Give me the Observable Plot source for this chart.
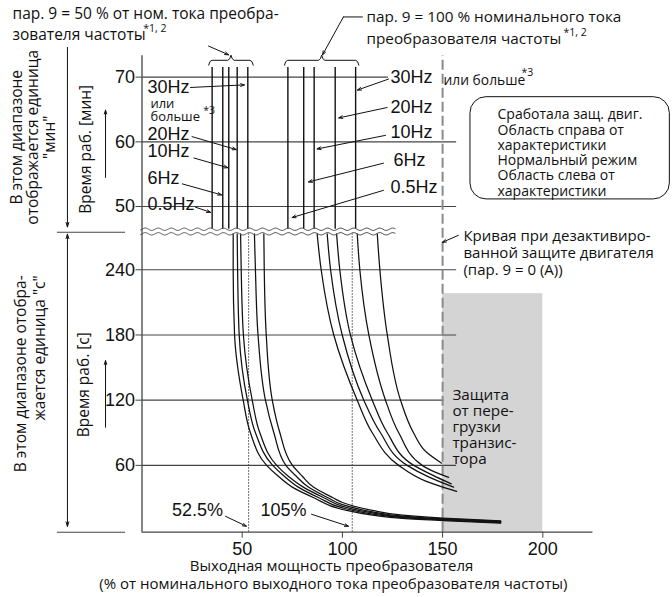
<!DOCTYPE html>
<html><head><meta charset="utf-8">
<script src="https://cdn.jsdelivr.net/npm/d3@7"></script>
<script src="https://cdn.jsdelivr.net/npm/@observablehq/plot@0.6"></script>
<style>body{margin:0;background:#fff}#chart svg{display:block}</style>
</head><body><div id="chart"></div>
<script>
// ---- data ----
const freqLabels = ["0.5Hz", "6Hz", "10Hz", "20Hz", "30Hz"];
const xTicks = [50, 100, 150, 200];
const secTicks = [60, 120, 180, 240];
const minTicks = [50, 60, 70];
// vertical characteristic lines in the "min" range (% of rated current)
const minLines50 = [35.0, 40.3, 43.3, 47.5, 52.8];
const minLines100 = [72.8, 80.7, 85.9, 96.4, 106.6];
const refLines = [53.2, 104.9]; // 52.5 % and 105 %
// curves in the "s" range: [% current, seconds]
const sec50_05 = [[45.5,273],[45.5,240],[46.2,180],[50.5,120],[54.1,90],[62.2,60],[68,50],[75,40],[86,30],[100,19.4],[115,14.2],[130,11.2],[150,9.2],[179,6.9]];
const sec50_6  = [[47.5,273],[47.7,240],[48.5,180],[52.6,120],[56.6,90],[65.2,60],[71,50],[78,40],[88.5,30],[100,20.8],[115,15.2],[130,11.9],[150,9.8],[179,7.4]];
const sec50_10 = [[49.2,273],[49.5,240],[50.6,180],[55,120],[58.8,90],[67.2,60],[73,50],[80.5,40],[91,30],[100,22.3],[115,16.2],[130,12.6],[150,10.3],[179,7.9]];
const sec50_20 = [[56.1,273],[56.6,240],[57.9,180],[61.6,120],[65.8,90],[71.8,60],[77,50],[83,40],[93,30],[100,23.8],[115,17.3],[130,13.4],[150,10.9],[179,8.4]];
const sec50_30 = [[60.8,273],[61,240],[62,180],[65,120],[68.8,90],[75.1,60],[80,50],[85.5,40],[95.5,30],[100,25.8],[115,18.6],[130,14.2],[150,11.5],[179,8.9]];
const sec100_05 = [[87.4,273],[89.4,240],[95.7,180],[107.4,120],[114.9,90],[128.1,60],[141,46],[157,36]];
const sec100_6  = [[92.4,273],[94.1,240],[99.9,180],[110.7,120],[119,90],[132.3,60],[143.5,49],[155.5,40]];
const sec100_10 = [[97.1,273],[98.7,240],[104,180],[114.9,120],[122.4,90],[135.6,60],[145,51],[154.3,43]];
const sec100_20 = [[107.4,273],[108.7,240],[113.2,180],[121.5,120],[128.1,90],[139.8,60],[146,54],[153,49]];
const sec100_30 = [[117.4,273],[118.7,240],[122.4,180],[129,120],[135.5,90],[142,72],[149.5,62]];
const transistorZone = [150, 200, 218]; // x from, x to, up to seconds

// ---- helpers ----
// the "min" range is drawn above the "s" range on one shared vertical axis
const up = m => 298.2 + (m - 50) * 5.954;
const curves = [sec50_05, sec50_6, sec50_10, sec50_20, sec50_30, sec100_05, sec100_6, sec100_10, sec100_20, sec100_30];
const curveRows = curves.flatMap((c, i) => c.map(([x, t]) => ({id: i, x, t})));
const yTickLabel = new Map([...secTicks.map(s => [s, String(s)]), ...minTicks.map(m => [up(m), String(m)])]);
const wave = base => d3.range(-0.7, 126.6, 0.5).map(x => ({x, y: base + 1.1 * Math.sin(2 * Math.PI * x / 6.5)}));
const brace = (x0, x1) => {
  const xm = (x0 + x1) / 2;
  return [[x0,71.85],[x0+0.6,72.4],[x0+1.6,72.6],[xm-1.6,72.6],[xm-0.6,72.85],[xm,73.4],[xm+0.6,72.85],[xm+1.6,72.6],[x1-1.6,72.6],[x1-0.6,72.4],[x1,71.85]].map(([x, m]) => ({x, y: up(m)}));
};
const RU = "'Open Sans', 'Noto Sans', sans-serif";
const NUM = "'Liberation Sans', Arial, sans-serif";
const ink = "#111";
const txt = (s, x, y, o = {}) => Plot.text([s], {x, y, text: d => d, fill: ink, fontFamily: RU, fontSize: 15, textAnchor: "start", ...o});
const arrows = (data, o = {}) => Plot.arrow(data, {x1: d => d[0], y1: d => d[1], x2: d => d[2], y2: d => d[3], stroke: ink, strokeWidth: 1, headLength: 6, headAngle: 40, ...o});

const leftHzY = [50.36, 54.45, 58.54, 61.17, 68.44];
const rightHzY = [52.98, 57.16, 61.5, 65.36, 70.0];
const leftArrowsMin = [[26.7,49.9,34.2,49.1],[20.1,53.5,39.7,51.8],[25.9,57.5,42.8,56.0],[25.0,60.8,47.0,58.8],[24.2,68.4,51.1,68.8]];
const rightArrowsMin = [[120.5,52.5,74.9,48.3],[120.5,56.7,83.1,53.8],[121.5,61.0,87.4,58.9],[122.3,65.3,98.2,63.7],[123.0,69.7,107.5,68.0]];
const toUp = a => [a[0], up(a[1]), a[2], up(a[3])];

const chart = Plot.plot({
  width: 672, height: 597,
  marginLeft: 141.5, marginRight: 79.6, marginTop: 55.2, marginBottom: 65.3,
  x: {domain: [0, 225]},
  y: {domain: [-1.5, 437]},
  style: {fontFamily: NUM, fontSize: "18px", background: "#fff", color: ink},
  marks: [
    Plot.rect([transistorZone], {x1: d => d[0], x2: d => d[1], y1: -1.5, y2: d => d[2], fill: "#d4d4d4"}),
    // grid
    Plot.ruleY(secTicks, {y: d => d, x1: 0, x2: d => d === 120 ? 150.7 : 157, stroke: "#444", strokeWidth: 1.1}),
    Plot.ruleY(minTicks, {y: d => up(d), x1: 0, x2: d => d === 70 ? 123 : 157, stroke: "#444", strokeWidth: 1.1}),
    Plot.ruleX([150], {y1: -1.5, y2: 437, stroke: "#8a8a8a", strokeWidth: 2, strokeDasharray: "10,4"}),
    Plot.ruleX(refLines, {y1: -1.5, y2: 273, stroke: "#444", strokeWidth: 1, strokeDasharray: "1.5,1.5"}),
    // characteristics
    Plot.ruleX(minLines50, {y1: up(46.49), y2: up(71.5), stroke: ink, strokeWidth: 1.4}),
    Plot.ruleX(minLines100, {y1: up(46.49), y2: up(71.5), stroke: ink, strokeWidth: 1.4}),
    Plot.line(curveRows, {x: "x", y: "t", z: "id", curve: "monotone-y", stroke: ink, strokeWidth: 1.25}),
    // axis break
    Plot.line(wave(277.3), {x: "x", y: "y", stroke: "#555", strokeWidth: 1}),
    Plot.line(wave(273.1), {x: "x", y: "y", stroke: "#555", strokeWidth: 1}),
    // axes
    Plot.ruleX([0], {stroke: "#444", strokeWidth: 1.3}),
    Plot.ruleY([-1.5], {stroke: "#444", strokeWidth: 1.3}),
    Plot.axisX({ticks: xTicks, tickSize: 6, tickPadding: 4, fontSize: 18, label: null, stroke: "#444"}),
    Plot.axisY({ticks: [...yTickLabel.keys()], tickFormat: d => yTickLabel.get(d), tickSize: 6, tickPadding: 1, fontSize: 18, label: null, stroke: "#444"}),
    // left side scale markers
    Plot.ruleY([274.5, -1.5], {x1: -42.2, x2: -8.2, stroke: "#444", strokeWidth: 1.1}),
    arrows([[-37.2, up(74.6), -37.2, up(46.85)], [-37.2, 138, -37.2, 272.8], [-37.2, 138, -37.2, 3.9]], {headLength: 7, headAngle: 35}),
    arrows([[-18.2, up(54.5), -18.2, up(64.9)], [-18.2, 95.1, -18.2, 156.4]], {headLength: 6, headAngle: 35}),
    txt("В этом диапазоне\nотображается единица\n\"мин\"", -54.3, up(60.7), {rotate: -90, textAnchor: "middle", lineHeight: 1.05, fontSize: 15.5}),
    txt("В этом диапазоне отобра-\nжается единица \"с\"", -56.1, 234.9, {rotate: -90, textAnchor: "end", lineHeight: 1.2, fontSize: 15.5}),
    txt("Время раб. [мин]", -27.9, up(58.85), {rotate: -90, textAnchor: "middle", fontSize: 15.5}),
    txt("Время раб. [с]", -28.9, 134.2, {rotate: -90, textAnchor: "middle", fontSize: 15.5}),
    // headers
    txt("пар. 9 = 50 % от ном. тока преобра-", -64.6, up(79.72), {fontSize: 15.5}),
    txt("зователя частоты", -64.6, up(76.48), {fontSize: 15.5}),
    txt("*1, 2", 0.6, up(77.45), {fontSize: 10.5}),
    txt("пар. 9 = 100 % номинального тока", 112.0, up(79.25), {fontSize: 15.3}),
    txt("преобразователя частоты", 112.0, up(75.85), {fontSize: 15.3}),
    txt("*1, 2", 210.3, up(76.95), {fontSize: 10.5}),
    Plot.line(brace(33.3, 55.5), {x: "x", y: "y", stroke: ink, strokeWidth: 1}),
    Plot.line(brace(71.1, 108.2), {x: "x", y: "y", stroke: ink, strokeWidth: 1}),
    arrows([[33.2, up(74.8), 43.2, up(73.45)], [100.5, up(79.3), 90.1, up(73.45)]]),
    Plot.line([[110.0, up(79.3)], [100.5, up(79.3)]], {stroke: ink, strokeWidth: 1}),
    // frequency labels
    Plot.text(freqLabels, {x: 2.7, y: (d, i) => up(leftHzY[i]), text: d => d, textAnchor: "start", fontFamily: NUM, fontSize: 18, fill: ink}),
    Plot.text(freqLabels, {x: (d, i) => i === 1 ? 125.5 : 124.0, y: (d, i) => up(rightHzY[i]), text: d => d, textAnchor: "start", fontFamily: NUM, fontSize: 18, fill: ink}),
    arrows(leftArrowsMin.map(toUp)),
    arrows(rightArrowsMin.map(toUp)),
    txt("или", 4.2, up(65.95), {fontSize: 13}),
    txt("больше", 4.2, up(63.8), {fontSize: 13}),
    txt("*3", 30.6, up(64.75), {fontSize: 10.5}),
    txt("или больше", 150.5, up(69.5), {fontSize: 13.8}),
    txt("*3", 189.4, up(70.77), {fontSize: 10.5}),
    // legend box
    Plot.rect([0], {x1: 163.9, x2: 263.4, y1: up(51.1), y2: up(66.9), rx: 16, fill: "#fff", stroke: ink, strokeWidth: 1}),
    txt("Сработала защ. двиг.\nОбласть справа от\nхарактеристики\nНормальный режим\nОбласть слева от\nхарактеристики", 177.4, up(58.35), {fontSize: 14, lineHeight: 1.09}),
    // other annotations
    txt("Кривая при дезактивиро-\nванной защите двигателя\n(пар. 9 = 0 (А))", 160.4, 256.1, {fontSize: 15, lineHeight: 1.13}),
    arrows([[157.9, 271.7, 149.9, 265.3]]),
    txt("Защита\nот пере-\nгрузки\nтранзис-\nтора", 154.9, 95.5, {fontSize: 15.3, lineHeight: 1.04}),
    Plot.text(["52.5%"], {x: 40.4, y: 18.7, text: d => d, textAnchor: "end", fontFamily: NUM, fontSize: 18, fill: ink}),
    Plot.text(["105%"], {x: 59.1, y: 18.7, text: d => d, textAnchor: "start", fontFamily: NUM, fontSize: 18, fill: ink}),
    arrows([[41.7, 13.1, 52.1, 4.0], [84.6, 15.0, 103.0, 4.0]]),
    // x axis title
    txt("Выходная мощность преобразователя", 94.6, -32.6, {textAnchor: "middle", fontSize: 15}),
    txt("(% от номинального выходного тока преобразователя частоты)", 95.5, -49.2, {textAnchor: "middle", fontSize: 15})
  ]
});
document.getElementById("chart").appendChild(chart);
</script></body></html>
